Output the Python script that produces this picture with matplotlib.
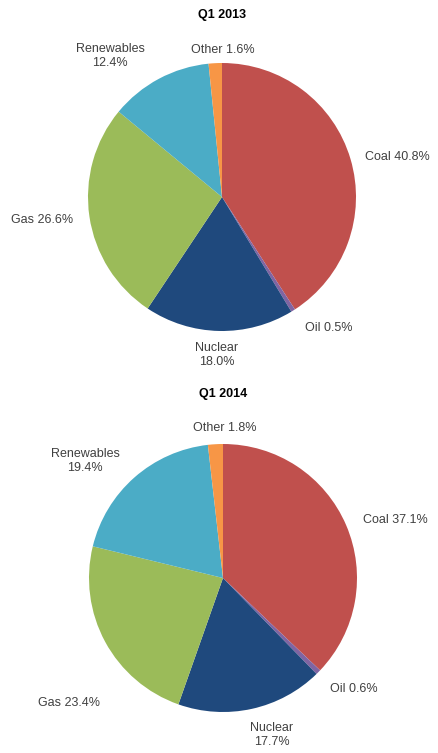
import matplotlib
matplotlib.use("Agg")
import matplotlib.pyplot as plt

plt.rcParams['font.family'] = ['Liberation Sans', 'DejaVu Sans']

categories = ['Coal', 'Oil', 'Nuclear', 'Gas', 'Renewables', 'Other']
share_2013 = [40.8, 0.5, 18.0, 26.6, 12.4, 1.6]
share_2014 = [37.1, 0.6, 17.7, 23.4, 19.4, 1.8]
titles = ['Q1 2013', 'Q1 2014']
colors = ['#C0504D', '#8064A2', '#1F497D', '#9BBB59', '#4BACC6', '#F79646']

W, H = 438, 753
fig = plt.figure(figsize=(W / 100, H / 100), dpi=100)

# label placement in pixels (x, y from top), per pie
label_pos = [
    {'Coal': (397, 157), 'Oil': (329, 328), 'Nuclear': (217, 355),
     'Gas': (42, 220), 'Renewables': (110, 56), 'Other': (223, 50)},
    {'Coal': (395, 520), 'Oil': (354, 689), 'Nuclear': (272, 735),
     'Gas': (69, 703), 'Renewables': (85, 461), 'Other': (225, 428)},
]
two_line = {'Renewables', 'Nuclear'}
centers = [(222, 197), (223, 578)]
radius = 134
title_y = [15, 394]

for i, values in enumerate([share_2013, share_2014]):
    cx, cy = centers[i]
    ax = fig.add_axes([(cx - radius) / W, 1 - (cy + radius) / H,
                       2 * radius / W, 2 * radius / H])
    ax.pie(values, colors=colors, startangle=90, counterclock=False,
           radius=1.0, wedgeprops={'linewidth': 0})
    ax.set_xlim(-1, 1)
    ax.set_ylim(-1, 1)
    ax.set_aspect('equal')
    ax.axis('off')

    fig.text(cx / W, 1 - title_y[i] / H, titles[i], ha='center', va='center',
             fontsize=9, fontweight='bold', color='#000000')

    for cat, val in zip(categories, values):
        x, y = label_pos[i][cat]
        sep = '\n' if cat in two_line else ' '
        fig.text(x / W, 1 - y / H, f'{cat}{sep}{val:.1f}%', ha='center',
                 va='center', fontsize=9, color='#404040', linespacing=1.25)

fig.savefig('out.png', dpi=100)
